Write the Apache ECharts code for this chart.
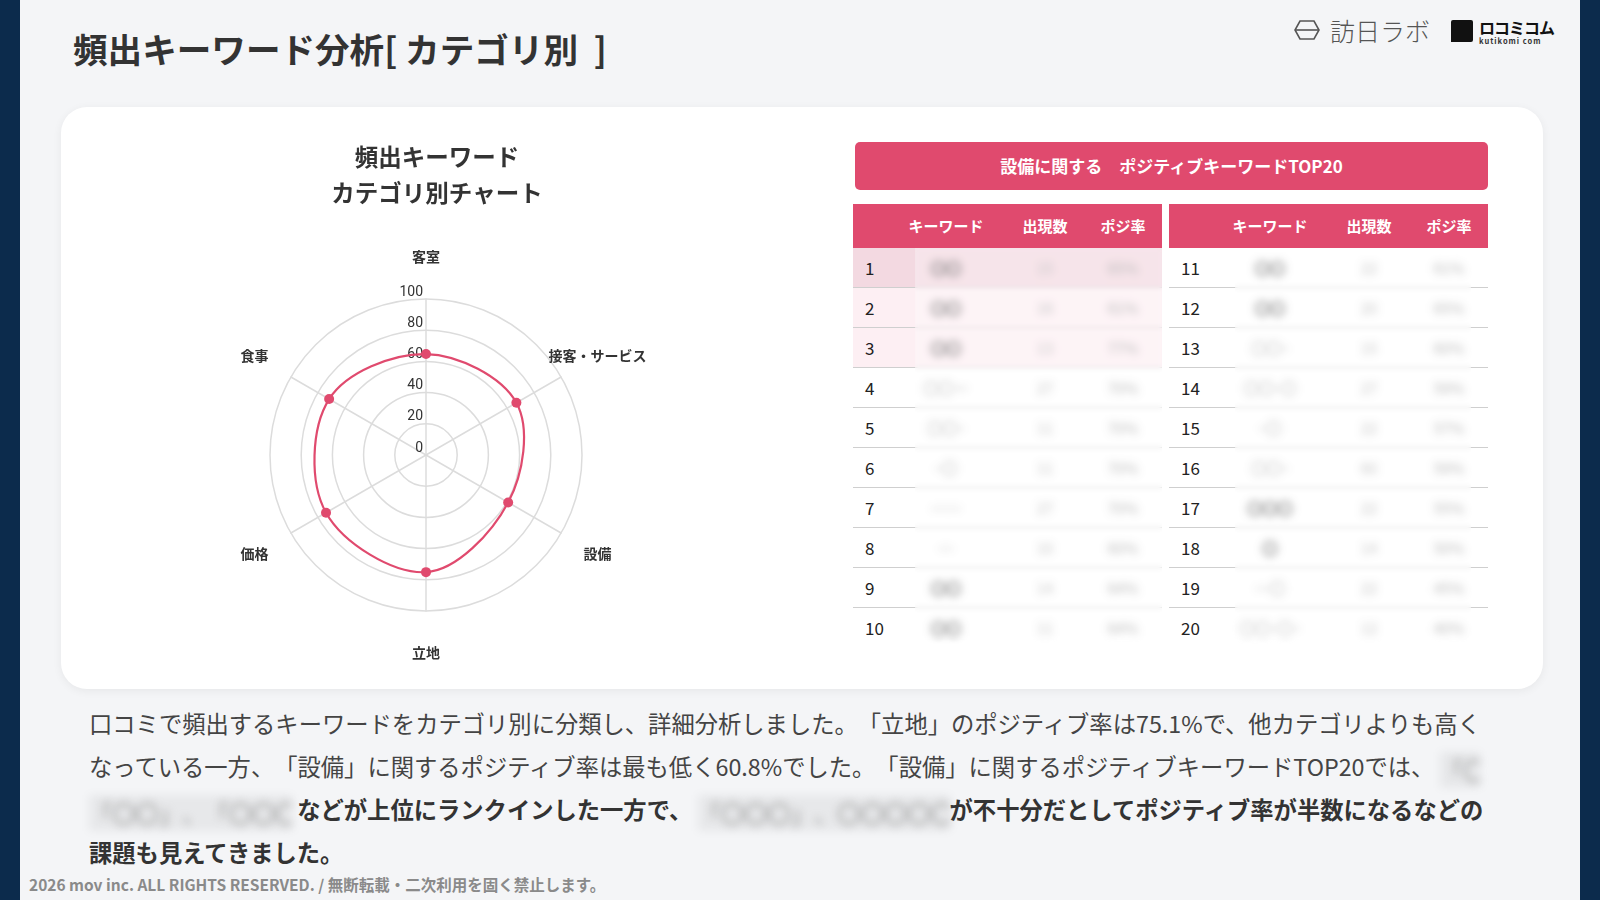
<!DOCTYPE html>
<html><head><meta charset="utf-8">
<script src="https://cdn.jsdelivr.net/npm/echarts@6/dist/echarts.min.js"></script>
<style>
html,body{margin:0;padding:0;width:1600px;height:900px;overflow:hidden;background:#f4f5f7;font-family:'Noto Sans CJK JP','Noto Sans',sans-serif;color:#333;text-spacing-trim:space-all;}
.abs{position:absolute;}
.strip{position:absolute;top:0;height:900px;width:20px;background:#0c2b4c;}
#title{left:73px;top:26px;font-size:34.6px;line-height:44px;font-weight:bold;color:#333;white-space:pre;}
#card{left:61px;top:107px;width:1482px;height:582px;border-radius:26px;background:#fff;box-shadow:0 2px 10px rgba(0,0,0,0.06);}
#chart{left:61px;top:107px;width:740px;height:582px;}
#banner{left:855px;top:142px;width:633px;height:48px;border-radius:5px;background:#e04a6e;color:#fff;font-size:17px;font-weight:bold;line-height:48px;text-align:center;white-space:pre;}
.thead{top:204px;height:44px;background:#e04a6e;}
.th{position:absolute;top:0;line-height:44px;font-size:15px;font-weight:bold;color:#fff;transform:translateX(-50%);white-space:nowrap;}
.row{position:absolute;height:40px;border-bottom:1.5px solid #cfcfcf;box-sizing:border-box;}
.rank{position:absolute;line-height:40px;font-size:17px;color:#222;}
.blur{position:absolute;line-height:40px;font-size:15px;transform:translateX(-50%);filter:blur(3.5px);white-space:nowrap;}
#para{left:89px;top:702px;font-size:23.3px;line-height:43px;color:#444;white-space:nowrap;}
#para b{color:#333;}
.bl{display:inline-block;filter:blur(4px);color:#888;background:rgba(0,0,0,0.05);line-height:36px;vertical-align:middle;overflow:hidden;}
#foot{left:29px;top:873px;font-size:15.5px;line-height:22px;font-weight:bold;color:#8a8a8a;white-space:nowrap;}
</style></head>
<body>
<div class="strip" style="left:0"></div>
<div class="strip" style="left:1580px"></div>
<div id="title" class="abs">頻出キーワード分析[ カテゴリ別  ]</div>
<div class="abs" style="left:1294px;top:14px;height:32px;display:flex;align-items:center;">
  <svg width="26" height="22" viewBox="0 0 26 22" style="margin-right:10px"><polygon points="6,2 20,2 25,11 20,20 6,20 1,11" fill="none" stroke="#555" stroke-width="1.6"/><line x1="1" y1="11" x2="25" y2="11" stroke="#555" stroke-width="1.6"/></svg>
  <span style="font-size:25px;font-weight:300;color:#555;letter-spacing:0px;">訪日ラボ</span>
</div>
<div class="abs" style="left:1451px;top:20px;width:22px;height:22px;background:#111;border-radius:2px 2px 2px 0;"></div>
<div class="abs" style="left:1479px;top:16px;font-size:16px;font-weight:bold;color:#111;line-height:22px;letter-spacing:-1px;">ロコミコム</div>
<div class="abs" style="left:1479px;top:36px;font-size:7.5px;font-weight:bold;color:#333;line-height:10px;letter-spacing:1px;">kutikomi com</div>

<div id="card" class="abs"></div>
<div id="chart" class="abs"></div>
<div id="banner" class="abs"></div>
<div id="tables"></div>
<div id="para" class="abs"></div>
<div id="foot" class="abs">2026 mov inc. ALL RIGHTS RESERVED. / 無断転載・二次利用を固く禁止します。</div>

<script>
// ---- data ----
var categories = ['客室', '接客・サービス', '設備', '立地', '価格', '食事'];
var positiveRates = [64.7, 66.9, 60.8, 75.1, 74.0, 71.7];
var radialTicks = [0, 20, 40, 60, 80, 100];
var chartTitle = '頻出キーワード\nカテゴリ別チャート';
var bannerText = '設備に関する　ポジティブキーワードTOP20';
var tableHeaders = ['キーワード', '出現数', 'ポジ率'];
var ranks = [1,2,3,4,5,6,7,8,9,10,11,12,13,14,15,16,17,18,19,20];
// keywords are blurred (unreadable) in the reference: placeholders
var keywordPlaceholders = ['〇〇','〇〇','〇〇','〇〇ー','〇〇ｰ','ｰ〇','ｰｰｰｰ','ｰｰ','〇〇','〇〇','〇〇','〇〇','〇〇ｰ','〇〇ｰ〇','ｰ〇','〇〇ｰ','〇〇〇','〇','ｰｰ〇','〇〇ｰ〇ｰ'];
var keywordDark = [1,1,1,0,0,0,0,0,1,1,1,1,0,0,0,0,1,1,0,0];
var counts = [15,16,13,27,11,11,27,10,14,11,22,20,15,27,22,60,22,14,22,12];
var rates = ['65%','61%','77%','70%','70%','70%','70%','60%','64%','64%','61%','65%','60%','59%','57%','59%','55%','50%','45%','40%'];

// ---- radar chart ----
var chart = echarts.init(document.getElementById('chart'));
var ccw = [categories[0]].concat(categories.slice(1).reverse());
var gridColor = '#dcdcdc';
chart.setOption({
  animation: false,
  title: {text: chartTitle, left: 371, top: 27, textAlign: 'center',
    textStyle: {fontSize: 23.5, fontWeight: 'bold', color: '#333', lineHeight: 36, fontFamily: 'Noto Sans CJK JP'}},
  polar: {center: [365, 348], radius: 156},
  angleAxis: {type: 'category', data: categories, boundaryGap: false, startAngle: 90, clockwise: true,
    axisLine: {show: false}, axisTick: {show: false}, axisLabel: {show: false}, splitLine: {show: false}},
  radiusAxis: {type: 'value', min: radialTicks[0], max: radialTicks[radialTicks.length - 1], interval: radialTicks[1] - radialTicks[0],
    axisLine: {show: false}, axisTick: {show: false},
    axisLabel: {color: '#333', fontSize: 14, align: 'right', verticalAlign: 'bottom', margin: 3, fontFamily: 'Roboto'},
    splitLine: {show: false}, z: 5},
  radar: {center: [365, 348], radius: 156, shape: 'circle', splitNumber: 5, startAngle: 90,
    indicator: ccw.map(function (n) { return {name: n, min: 0, max: 100}; }),
    nameGap: 42,
    axisName: {color: '#333', fontSize: 14, fontWeight: 'bold', align: 'center', verticalAlign: 'middle', fontFamily: 'Noto Sans CJK JP'},
    axisLine: {show: true, lineStyle: {color: gridColor, width: 1.5}},
    splitLine: {show: true, lineStyle: {color: gridColor, width: 1.5}},
    splitArea: {show: false}, axisTick: {show: false}, axisLabel: {show: false}},
  series: [{
    type: 'custom', coordinateSystem: 'polar',
    data: positiveRates.map(function (v, i) { return [v, i]; }),
    encode: {radius: 0, angle: 1},
    renderItem: function (params, api) {
      var children = [];
      if (params.dataIndex === 0) {
        var pts = positiveRates.map(function (v, i) { return api.coord([v, i]); });
        children.push({type: 'polygon', shape: {points: pts, smooth: 0.35},
          style: {fill: 'none', stroke: '#e04a6e', lineWidth: 2.2}, z2: 1});
      }
      var p = api.coord([api.value(0), api.value(1)]);
      children.push({type: 'circle', shape: {cx: p[0], cy: p[1], r: 5}, style: {fill: '#e04a6e'}, z2: 2});
      return {type: 'group', children: children};
    },
    z: 10
  }]
});

// ---- table ----
document.getElementById('banner').textContent = bannerText;
var tables = document.getElementById('tables');
var html = '';
var tdefs = [
  {left: 853, width: 309, cols: [946, 1045, 1123], rankX: 865, blurL: 915, blurR: 1162},
  {left: 1169, width: 319, cols: [1270, 1369, 1449], rankX: 1181, blurL: 1235, blurR: 1471}
];
tdefs.forEach(function (t, ti) {
  html += '<div class="abs thead" style="left:' + t.left + 'px;width:' + t.width + 'px;">';
  tableHeaders.forEach(function (h, k) {
    html += '<div class="th" style="left:' + (t.cols[k] - t.left) + 'px">' + h + '</div>';
  });
  html += '</div>';
  for (var r = 0; r < 10; r++) {
    var idx = ti * 10 + r;
    var top = 248 + r * 40;
    var bg = 'transparent';
    if (ti === 0 && r === 0) bg = '#f3d9e1';
    else if (ti === 0 && (r === 1 || r === 2)) bg = '#fdeff3';
    html += '<div class="row" style="left:' + t.left + 'px;top:' + top + 'px;width:' + t.width + 'px;background:' + bg + ';' + (r === 9 ? 'border-bottom:none;' : '') + '"></div>';
    html += '<div class="rank abs" style="left:' + t.rankX + 'px;top:' + top + 'px;">' + ranks[idx] + '</div>';
    var dark = keywordDark[idx];
    html += '<div class="blur abs" style="left:' + t.cols[0] + 'px;top:' + top + 'px;color:' + (dark ? '#333' : '#999') + ';font-weight:' + (dark ? 'bold' : 'normal') + '">' + keywordPlaceholders[idx] + '</div>';
    html += '<div class="blur abs" style="left:' + t.cols[1] + 'px;top:' + top + 'px;color:#aaa">' + counts[idx] + '</div>';
    html += '<div class="blur abs" style="left:' + t.cols[2] + 'px;top:' + top + 'px;color:#999">' + rates[idx] + '</div>';
  }
  // soft white veil over the blurred columns
  html += '<div class="abs" style="left:' + t.blurL + 'px;top:248px;width:' + (t.blurR - t.blurL) + 'px;height:392px;background:rgba(255,255,255,0.3);backdrop-filter:blur(2px);"></div>';
});
tables.innerHTML = html;

// ---- paragraph ----
var paraLines = [
  '口コミで頻出するキーワードをカテゴリ別に分類し、詳細分析しました。「立地」のポジティブ率は75.1%で、他カテゴリよりも高く',
  'なっている一方、「設備」に関するポジティブ率は最も低く60.8%でした。「設備」に関するポジティブキーワードTOP20では、 <span class="bl" style="width:40px">「〇」</span>',
  '<span class="bl" style="width:203px">「〇〇」、「〇〇〇〇」</span> <b>などが上位にランクインした一方で、</b> <span class="bl" style="width:252px">「〇〇〇」、〇〇〇〇〇</span><b>が不十分だとしてポジティブ率が半数になるなどの</b>',
  '<b>課題も見えてきました。</b>'
];
document.getElementById('para').innerHTML = paraLines.join('<br>');
</script>
</body></html>
